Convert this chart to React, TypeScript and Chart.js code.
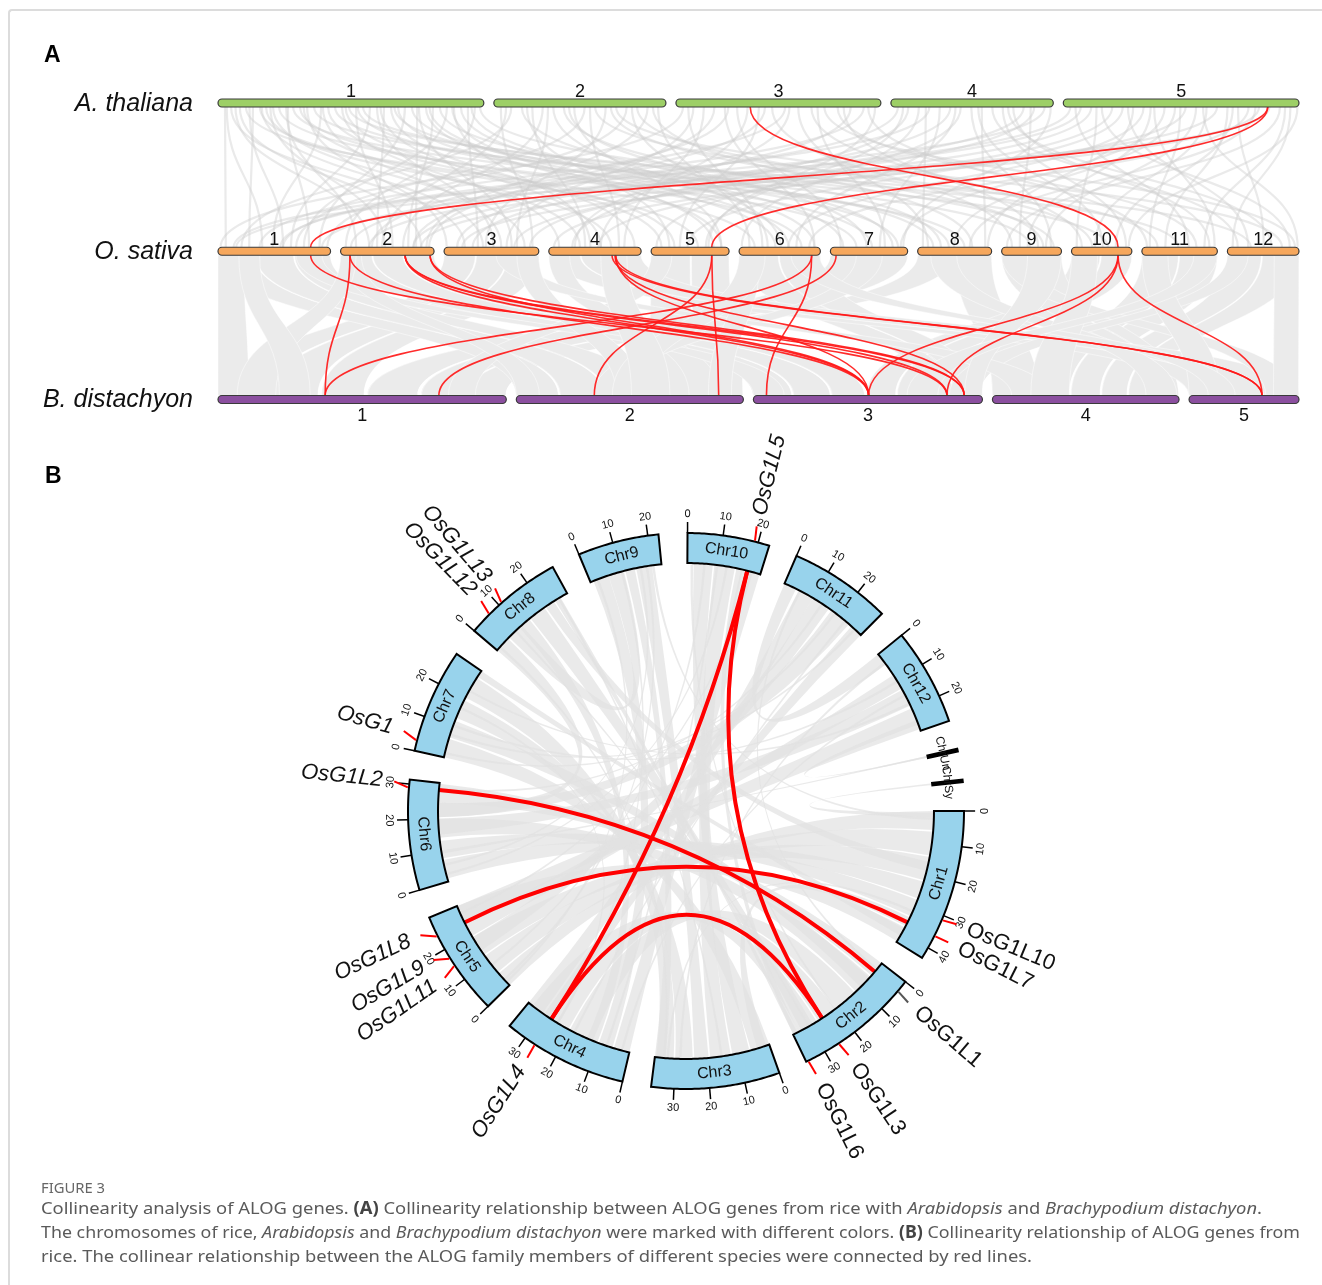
import React, { useEffect, useLayoutEffect, useRef } from "react";
import { Chart, registerables } from "chart.js";
Chart.register(...registerables);

// ================= Panel A data =================
const speciesNames = ["A. thaliana", "O. sativa", "B. distachyon"];
const atChrLabels = ["1", "2", "3", "4", "5"];
const atChrLen = [30.43, 19.7, 23.46, 18.59, 26.98];
const osChrLabels = ["1", "2", "3", "4", "5", "6", "7", "8", "9", "10", "11", "12"];
const osChrLen = [43.27, 35.94, 36.41, 35.5, 29.96, 31.25, 29.7, 28.44, 23.01, 23.21, 29.02, 27.53];
const bdChrLabels = ["1", "2", "3", "4", "5"];
const bdChrLen = [75.07, 59.13, 59.64, 48.59, 28.63];

// red links A. thaliana -> O. sativa : [atChr, atPos(Mb), osChr, osPos(Mb)]
const atOsRedLinks = [
  [3, 8.5, 10, 17.9],
  [5, 23.4, 1, 35.6],
  [5, 23.4, 5, 23.3],
];

// red links O. sativa -> B. distachyon : [osChr, osPos, bdChr, bdPos]
const osBdRedLinks = [
  [1, 35.6, 3, 50.4],
  [2, 3.6, 1, 27.9],
  [2, 3.6, 3, 30.0],
  [2, 24.8, 3, 30.0],
  [2, 24.8, 3, 50.4],
  [2, 24.8, 3, 54.9],
  [2, 34.4, 3, 30.0],
  [2, 34.4, 3, 54.9],
  [4, 25.7, 3, 30.0],
  [4, 25.4, 3, 54.9],
  [4, 25.7, 5, 19.0],
  [4, 24.3, 5, 19.0],
  [5, 23.3, 2, 20.3],
  [5, 23.3, 2, 52.7],
  [6, 27.9, 1, 27.9],
  [6, 27.9, 3, 3.4],
  [7, 2.2, 1, 57.5],
  [10, 17.9, 3, 30.0],
  [10, 17.9, 3, 50.4],
  [10, 17.9, 5, 19.0],
];

// grey collinear pairs A. thaliana -> O. sativa : [atChr, atPos, osChr, osPos]
const atOsGrayLinks = [
  [1, 0.8, 1, 3], [1, 1.5, 3, 8], [1, 2.5, 2, 31], [1, 3.2, 6, 6], [1, 4.0, 1, 12], [1, 4.8, 5, 18],
  [1, 5.5, 4, 24], [1, 6.3, 3, 31], [1, 7.0, 7, 10], [1, 7.8, 2, 6], [1, 8.6, 8, 18], [1, 9.4, 6, 24],
  [1, 10.2, 3, 1], [1, 11.0, 10, 14], [1, 11.8, 1, 21], [1, 12.6, 5, 4], [1, 13.4, 9, 11], [1, 14.2, 4, 4],
  [1, 15.0, 12, 9], [1, 15.8, 2, 20], [1, 16.6, 11, 14], [1, 17.4, 1, 28], [1, 18.2, 3, 19], [1, 19.0, 2, 14],
  [1, 19.8, 4, 33], [1, 20.6, 6, 14], [1, 21.4, 1, 39], [1, 22.2, 7, 26], [1, 23.0, 3, 26], [1, 23.8, 5, 27],
  [1, 24.6, 2, 26], [1, 25.4, 8, 6], [1, 26.2, 1, 33], [1, 27.0, 4, 16], [1, 27.8, 6, 29], [1, 28.6, 3, 13],
  [1, 29.4, 2, 2], [1, 30.0, 9, 20], [1, 1.0, 1, 17], [1, 2.0, 2, 11], [1, 3.6, 1, 25], [1, 5.0, 3, 15],
  [1, 6.0, 2, 17], [1, 8.0, 1, 35], [1, 9.8, 4, 12], [1, 12.0, 3, 22], [1, 14.6, 5, 9], [1, 16.0, 7, 16],
  [1, 18.6, 4, 20], [1, 20.2, 8, 12], [1, 22.8, 2, 29], [1, 24.2, 6, 19], [1, 26.8, 5, 24], [1, 29.0, 7, 5],
  [2, 0.8, 3, 34], [2, 2.0, 1, 9], [2, 3.2, 7, 24], [2, 4.4, 4, 14], [2, 5.6, 2, 24], [2, 6.8, 6, 16],
  [2, 8.0, 8, 9], [2, 9.2, 5, 27], [2, 10.4, 1, 30], [2, 11.6, 11, 6], [2, 12.8, 3, 16], [2, 14.0, 12, 21],
  [2, 15.2, 1, 42], [2, 16.4, 10, 8], [2, 17.6, 2, 33], [2, 18.8, 6, 4], [2, 1.4, 2, 16], [2, 3.8, 5, 7],
  [2, 6.2, 3, 28], [2, 8.6, 7, 14], [2, 11.0, 4, 27], [2, 13.4, 9, 16], [2, 15.8, 6, 11], [2, 18.2, 8, 21],
  [3, 0.8, 1, 1], [3, 2.0, 3, 24], [3, 3.2, 4, 29], [3, 4.4, 2, 34], [3, 5.6, 6, 29], [3, 7.0, 7, 4],
  [3, 9.5, 5, 11], [3, 11.0, 9, 4], [3, 12.5, 1, 16], [3, 14.0, 8, 4], [3, 15.5, 10, 4], [3, 17.0, 12, 26],
  [3, 18.5, 11, 21], [3, 20.0, 3, 5], [3, 21.5, 1, 25], [3, 22.8, 5, 22], [3, 6.0, 2, 12], [3, 13.0, 4, 10],
  [3, 1.4, 6, 9], [3, 8.2, 4, 20], [3, 10.2, 2, 28], [3, 16.2, 7, 21], [3, 19.2, 9, 14], [3, 22.0, 11, 2],
  [4, 0.8, 2, 4], [4, 2.0, 4, 9], [4, 3.2, 6, 1], [4, 4.4, 1, 24], [4, 5.6, 7, 19], [4, 6.8, 3, 11],
  [4, 8.0, 5, 2], [4, 9.2, 9, 19], [4, 10.4, 8, 26], [4, 11.6, 12, 4], [4, 12.8, 10, 21], [4, 14.0, 11, 26],
  [4, 15.2, 2, 28], [4, 16.4, 3, 33], [4, 17.6, 1, 6], [4, 18.3, 7, 28], [4, 1.4, 5, 21], [4, 4.0, 8, 2],
  [4, 7.4, 6, 22], [4, 10.0, 10, 12], [4, 13.4, 12, 17], [4, 16.0, 9, 7],
  [5, 0.8, 1, 40], [5, 2.0, 2, 11], [5, 3.2, 3, 27], [5, 4.4, 12, 24], [5, 5.6, 4, 19], [5, 6.8, 5, 14],
  [5, 8.0, 8, 27], [5, 9.2, 6, 19], [5, 10.4, 11, 28], [5, 11.6, 7, 27], [5, 12.8, 8, 14], [5, 14.0, 4, 2],
  [5, 15.2, 9, 17], [5, 16.4, 10, 9], [5, 17.6, 2, 31], [5, 18.8, 11, 9], [5, 20.0, 12, 14], [5, 21.2, 6, 27],
  [5, 22.4, 3, 7], [5, 23.6, 1, 7], [5, 24.8, 9, 2], [5, 26.0, 12, 2], [5, 26.8, 10, 22], [5, 1.4, 11, 18],
  [5, 3.8, 10, 2], [5, 7.4, 12, 8], [5, 10.0, 9, 10], [5, 13.4, 11, 3], [5, 16.0, 12, 27], [5, 19.4, 10, 17],
  [5, 22.0, 8, 20], [5, 25.4, 11, 24],
];

// grey syntenic blocks O. sativa -> B. distachyon : [osChr, osStart, osEnd, bdChr, bdStart, bdEnd]
const osBdGrayBlocks = [
  [3, 0, 12, 1, 2, 13], [3, 12.5, 24, 1, 14, 26], [3, 24.5, 36.4, 1, 27, 38],
  [7, 0, 14, 1, 39, 52], [7, 14.5, 29.7, 1, 53, 64], [8, 0, 14, 1, 64.5, 75],
  [8, 14.5, 28.4, 4, 0, 12],
  [1, 0, 14, 2, 0, 11], [1, 14.5, 29, 2, 11.5, 23], [1, 29.5, 43.2, 2, 23.5, 34],
  [5, 0, 15, 2, 34.5, 46], [5, 15.5, 29.9, 2, 46.5, 59],
  [2, 0, 12, 3, 0, 10], [2, 12.5, 24, 3, 10.5, 20], [2, 24.5, 35.9, 3, 20.5, 29],
  [10, 0, 11, 3, 29.5, 37], [10, 11.5, 23.2, 3, 37.5, 45],
  [6, 0, 15, 3, 45.5, 52], [6, 15.5, 31.2, 3, 52.5, 59.6],
  [11, 0, 14, 4, 12.5, 20], [11, 14.5, 29, 4, 20.5, 28],
  [12, 0, 13, 4, 28.5, 35], [12, 13.5, 27.5, 4, 35.5, 41],
  [9, 0, 11, 4, 41.5, 45], [9, 11.5, 23, 4, 45.5, 48.5],
  [4, 0, 12, 5, 0, 10], [4, 12.5, 24, 5, 10.5, 19], [4, 24.5, 35.5, 5, 19.5, 28.6],
  [5, 0, 8, 1, 60, 67], [9, 0, 10, 5, 20, 28], [12, 0, 8, 3, 51, 59], [8, 5, 15, 4, 40, 48],
  [4, 0, 8, 2, 45, 53], [1, 30, 40, 3, 0, 8], [7, 10, 20, 2, 20, 28], [11, 0, 10, 5, 0, 8],
  [3, 20, 30, 4, 5, 15], [10, 0, 10, 4, 10, 20], [6, 20, 31, 5, 5, 12], [9, 10, 23, 3, 55, 59.6],
  [2, 0, 8, 2, 0, 6], [12, 18, 27.5, 5, 22, 28.6], [11, 20, 29, 3, 40, 48], [6, 0, 8, 2, 50, 56],
  [1, 0, 10, 1, 0, 8], [3, 28, 36.4, 2, 26, 33], [2, 0, 6, 1, 5, 15], [6, 0, 10, 2, 25, 33],
  [4, 20, 30, 2, 30, 40], [1, 8, 16, 1, 16, 24],
];

// ================= Panel B data =================
const circChrNames = ["Chr1", "Chr2", "Chr3", "Chr4", "Chr5", "Chr6", "Chr7", "Chr8", "Chr9", "Chr10", "Chr11", "Chr12", "ChrUn", "ChrSy"];
const circChrLen = [43.27, 35.94, 36.41, 35.5, 29.96, 31.25, 29.7, 28.44, 23.01, 23.21, 29.02, 27.53, 0.63, 0.59];
const circTickStep = 10;

const geneNames = ["OsG1", "OsG1L1", "OsG1L2", "OsG1L3", "OsG1L4", "OsG1L5", "OsG1L6", "OsG1L7", "OsG1L8", "OsG1L9", "OsG1L10", "OsG1L11", "OsG1L12", "OsG1L13"];
const geneChr = ["Chr7", "Chr2", "Chr6", "Chr2", "Chr4", "Chr10", "Chr2", "Chr1", "Chr5", "Chr5", "Chr1", "Chr5", "Chr8", "Chr8"];
const genePos = [3.0, 3.4, 29.0, 25.5, 26.7, 19.0, 35.3, 36.2, 24.3, 17.2, 31.3, 14.7, 6.3, 11.0];
const geneLabelPos = [4.5, 3.9, 30.3, 25.0, 26.5, 18.5, 35.0, 36.1, 26.5, 19.1, 30.8, 13.5, 7.2, 12.2];

const circLinkFrom = ["OsG1L5", "OsG1L5", "OsG1L4", "OsG1L2", "OsG1L8"];
const circLinkTo = ["OsG1L4", "OsG1L3", "OsG1L3", "OsG1L1", "OsG1L7"];

// grey segmental duplications: [chrA, startA, endA, chrB, startB, endB] (chr index 1..14)
const circGrayLinks = [
  [1, 0, 6, 5, 0, 5], [1, 6.5, 14, 5, 5.5, 12], [1, 14.5, 22, 5, 12.5, 19], [1, 22.5, 28, 6, 1, 7],
  [1, 28.5, 34, 6, 7.5, 13], [1, 38, 43, 5, 25, 29.9], [1, 34.5, 37.5, 3, 1, 4],
  [2, 0, 5, 6, 25, 31], [2, 5.5, 12, 6, 14, 20], [2, 12.5, 20, 4, 12, 20], [2, 20.5, 27, 4, 20.5, 27],
  [2, 27.5, 34, 4, 27.5, 34], [2, 34.5, 35.9, 8, 24, 26],
  [3, 0, 6, 7, 0, 6], [3, 6.5, 12, 10, 2, 8], [3, 12.5, 19, 10, 8.5, 15], [3, 19.5, 24, 9, 15, 20],
  [3, 24.5, 30, 7, 13, 19], [3, 30.5, 36, 7, 20, 27],
  [4, 0, 5, 10, 17, 23], [4, 5.5, 10, 9, 1, 6], [4, 10.5, 14, 8, 10, 14], [4, 30, 35.5, 11, 5, 10],
  [5, 19.5, 24, 12, 8, 13], [6, 15, 20, 12, 13.5, 19], [6, 20.5, 25, 8, 0, 5], [7, 6.5, 12, 2, 6, 10],
  [7, 27.5, 29.7, 1, 38.5, 41], [8, 5.5, 11, 9, 6, 11], [8, 14.5, 20, 2, 29, 33], [8, 20.5, 23.5, 1, 16, 19],
  [9, 11.5, 14.5, 3, 33, 36.4], [10, 15.5, 17.5, 2, 34, 35.9], [11, 0, 4, 12, 0, 4], [11, 10, 16, 5, 14, 19],
  [11, 17, 24, 6, 20.5, 25], [11, 25, 29, 4, 26, 29.5], [12, 20, 27, 5, 24, 29.9],
  [13, 0, 0.63, 12, 24, 25.5], [14, 0, 0.59, 1, 0.5, 2], [13, 0, 0.63, 6, 9, 10],
  [7, 16, 16.8, 4, 24, 24.8], [9, 2, 2.8, 5, 1, 1.8], [10, 9, 9.8, 4, 7, 7.8], [8, 25, 25.8, 3, 15, 15.8],
  [12, 3, 3.8, 3, 28, 28.8], [11, 5, 5.8, 2, 2, 2.8], [6, 2, 2.8, 10, 12, 12.8], [5, 2, 2.8, 9, 18, 18.8],
  [7, 22, 22.8, 12, 18, 18.8], [9, 20, 20.8, 1, 2, 2.8], [10, 1, 1.8, 2, 20, 20.8], [4, 18, 18.8, 11, 22, 22.8],
  [8, 1, 1.8, 3, 33, 33.8], [6, 29, 29.8, 11, 13, 13.8], [12, 10, 10.8, 7, 10, 10.8], [3, 32, 32.8, 1, 32, 32.8],
  [5, 8, 8.8, 10, 5, 5.8], [4, 24, 24.8, 9, 10, 10.8], [2, 30, 30.8, 8, 8, 8.8], [7, 1, 1.8, 11, 18, 18.8],
  [9, 16, 16.8, 6, 5, 5.8], [10, 20, 20.8, 5, 27, 27.8], [11, 26, 26.8, 7, 7, 7.8], [12, 15, 15.8, 4, 2, 2.8],
];

// ================= layout / style constants =================
const FONT = "'Liberation Sans', Arial, sans-serif";
const GAP_FRAC = 0.00925;
const CIRC_GAP = 6; // degrees
const CIRC_START = 90; // degrees clockwise from 12 o'clock
const R_OUT = 1.0;
const R_IN = 0.892;

function fracOf(lens: number[], chr: number, pos: number) {
  const total = lens.reduce((a, b) => a + b, 0);
  const unit = (1 - (lens.length - 1) * GAP_FRAC) / total;
  let off = 0;
  for (let i = 0; i < chr - 1; i++) off += lens[i];
  return off * unit + (chr - 1) * GAP_FRAC + pos * unit;
}

function roundRectPath(ctx: CanvasRenderingContext2D, x: number, y: number, w: number, h: number, r: number) {
  ctx.beginPath();
  ctx.moveTo(x + r, y);
  ctx.lineTo(x + w - r, y);
  ctx.arc(x + w - r, y + r, r, -Math.PI / 2, Math.PI / 2);
  ctx.lineTo(x + r, y + h);
  ctx.arc(x + r, y + r, r, Math.PI / 2, (3 * Math.PI) / 2);
  ctx.closePath();
}

const panelAPlugin = {
  id: "panelA",
  afterDraw(chart: any) {
    const ctx: CanvasRenderingContext2D = chart.ctx;
    const xs = chart.scales.x;
    const ys = chart.scales.y;
    const lensByRow = [atChrLen, osChrLen, bdChrLen];
    const labelsByRow = [atChrLabels, osChrLabels, bdChrLabels];
    const X = (row: number, chr: number, pos: number) => xs.getPixelForValue(fracOf(lensByRow[row], chr, pos));
    const Y = (row: number) => ys.getPixelForValue(row);
    const HB = 4;
    ctx.save();

    // grey At-Os links
    ctx.lineWidth = 2.2;
    ctx.strokeStyle = "rgba(205,205,205,0.42)";
    for (const [ac, ap, oc, op] of atOsGrayLinks) {
      const x1 = X(0, ac, ap), y1 = Y(0) + HB, x2 = X(1, oc, op), y2 = Y(1) - HB;
      const ym = (y1 + y2) / 2;
      ctx.beginPath();
      ctx.moveTo(x1, y1);
      ctx.bezierCurveTo(x1, ym, x2, ym, x2, y2);
      ctx.stroke();
    }

    // grey Os-Bd syntenic ribbons
    ctx.fillStyle = "#ebebeb";
    ctx.strokeStyle = "rgba(255,255,255,0.8)";
    ctx.lineWidth = 0.6;
    for (const [oc, o1, o2, bc, b1, b2] of osBdGrayBlocks) {
      const y1 = Y(1) + HB, y2 = Y(2) - HB, ym = (y1 + y2) / 2;
      const xa1 = X(1, oc, o1), xa2 = X(1, oc, o2), xb1 = X(2, bc, b1), xb2 = X(2, bc, b2);
      ctx.beginPath();
      ctx.moveTo(xa1, y1);
      ctx.lineTo(xa2, y1);
      ctx.bezierCurveTo(xa2, ym, xb2, ym, xb2, y2);
      ctx.lineTo(xb1, y2);
      ctx.bezierCurveTo(xb1, ym, xa1, ym, xa1, y1);
      ctx.closePath();
      ctx.fill();
      ctx.stroke();
    }

    // red links
    ctx.lineWidth = 1.6;
    ctx.strokeStyle = "rgba(255,25,25,0.92)";
    const redCurve = (r1: number, c1: number, p1: number, r2: number, c2: number, p2: number) => {
      const x1 = X(r1, c1, p1), y1 = Y(r1) + HB, x2 = X(r2, c2, p2), y2 = Y(r2) - HB;
      const ym = (y1 + y2) / 2;
      ctx.beginPath();
      ctx.moveTo(x1, y1);
      ctx.bezierCurveTo(x1, ym, x2, ym, x2, y2);
      ctx.stroke();
    };
    for (const [ac, ap, oc, op] of atOsRedLinks) redCurve(0, ac, ap, 1, oc, op);
    for (const [oc, op, bc, bp] of osBdRedLinks) redCurve(1, oc, op, 2, bc, bp);

    // chromosome bars
    const colors = ["#9dcf66", "#f6a75c", "#8b4f9f"];
    for (let row = 0; row < 3; row++) {
      const lens = lensByRow[row];
      for (let c = 1; c <= lens.length; c++) {
        const x1 = X(row, c, 0), x2 = X(row, c, lens[c - 1]);
        roundRectPath(ctx, x1, Y(row) - HB, x2 - x1, HB * 2, HB);
        ctx.fillStyle = colors[row];
        ctx.fill();
        ctx.lineWidth = 1.2;
        ctx.strokeStyle = "#3a3a3a";
        ctx.stroke();
        ctx.fillStyle = "#111";
        ctx.font = `18px ${FONT}`;
        ctx.textAlign = "center";
        const xm = (x1 + x2) / 2;
        if (row < 2) {
          ctx.textBaseline = "alphabetic";
          ctx.fillText(labelsByRow[row][c - 1], xm, Y(row) - 6);
        } else {
          ctx.textBaseline = "top";
          ctx.fillText(labelsByRow[row][c - 1], xm, Y(row) + 8);
        }
      }
      ctx.font = `italic 25px ${FONT}`;
      ctx.textAlign = "right";
      ctx.textBaseline = "middle";
      ctx.fillStyle = "#111";
      ctx.fillText(speciesNames[row], xs.left - 25, Y(row) + 1);
    }
    ctx.font = `bold 23px ${FONT}`;
    ctx.textAlign = "left";
    ctx.textBaseline = "alphabetic";
    ctx.fillStyle = "#000";
    ctx.fillText("A", 44, 62);
    ctx.restore();
  },
};

const panelBPlugin = {
  id: "panelB",
  afterDraw(chart: any) {
    const ctx: CanvasRenderingContext2D = chart.ctx;
    const xs = chart.scales.x;
    const ys = chart.scales.y;
    const deg = Math.PI / 180;
    const total = circChrLen.reduce((a, b) => a + b, 0);
    const s = (360 - circChrLen.length * CIRC_GAP) / total;
    const starts: number[] = [];
    let a = CIRC_START;
    for (const len of circChrLen) {
      starts.push(a);
      a += len * s + CIRC_GAP;
    }
    const ang = (ci: number, pos: number) => starts[ci] + pos * s;
    const P = (theta: number, r: number): [number, number] => [
      xs.getPixelForValue(r * Math.sin(theta * deg)),
      ys.getPixelForValue(r * Math.cos(theta * deg)),
    ];
    const C = P(0, 0);
    const norm = (t: number) => ((t % 360) + 360) % 360;
    const arcTo = (t1: number, t2: number, r: number, first: boolean) => {
      const n = Math.max(2, Math.ceil(Math.abs(t2 - t1) / 0.5));
      for (let i = 0; i <= n; i++) {
        const [x, y] = P(t1 + ((t2 - t1) * i) / n, r);
        if (i === 0 && first) ctx.moveTo(x, y);
        else ctx.lineTo(x, y);
      }
    };
    const tangentText = (text: string, theta: number, r: number) => {
      const [x, y] = P(theta, r);
      const t = norm(theta);
      ctx.save();
      ctx.translate(x, y);
      ctx.rotate((t > 90 && t < 270 ? t - 180 : t) * deg);
      ctx.textAlign = "center";
      ctx.textBaseline = "middle";
      ctx.fillText(text, 0, 0);
      ctx.restore();
    };
    const radialText = (text: string, theta: number, r: number) => {
      const [x, y] = P(theta, r);
      const t = norm(theta);
      ctx.save();
      ctx.translate(x, y);
      if (t < 180) {
        ctx.rotate((t - 90) * deg);
        ctx.textAlign = "left";
      } else {
        ctx.rotate((t - 270) * deg);
        ctx.textAlign = "right";
      }
      ctx.textBaseline = "middle";
      ctx.fillText(text, 0, 0);
      ctx.restore();
    };
    const chrIdx = (name: string) => circChrNames.indexOf(name);
    const geneAngle = (g: string) => {
      const i = geneNames.indexOf(g);
      return ang(chrIdx(geneChr[i]), genePos[i]);
    };

    ctx.save();
    // grey links
    ctx.fillStyle = "rgba(226,226,226,0.72)";
    for (const [ca, a1, a2, cb, b1, b2] of circGrayLinks) {
      const tA1 = ang(ca - 1, a1), tA2 = ang(ca - 1, a2), tB1 = ang(cb - 1, b1), tB2 = ang(cb - 1, b2);
      ctx.beginPath();
      arcTo(tA1, tA2, R_IN, true);
      const [xb1, yb1] = P(tB1, R_IN);
      ctx.quadraticCurveTo(C[0], C[1], xb1, yb1);
      arcTo(tB1, tB2, R_IN, false);
      const [xa1, ya1] = P(tA1, R_IN);
      ctx.quadraticCurveTo(C[0], C[1], xa1, ya1);
      ctx.closePath();
      ctx.fill();
    }

    // red links
    ctx.strokeStyle = "#ff0000";
    ctx.lineWidth = 4;
    ctx.lineCap = "round";
    for (let i = 0; i < circLinkFrom.length; i++) {
      const [x1, y1] = P(geneAngle(circLinkFrom[i]), R_IN);
      const [x2, y2] = P(geneAngle(circLinkTo[i]), R_IN);
      ctx.beginPath();
      ctx.moveTo(x1, y1);
      ctx.quadraticCurveTo(C[0], C[1], x2, y2);
      ctx.stroke();
    }
    ctx.lineCap = "butt";

    // ideograms
    for (let ci = 0; ci < circChrNames.length; ci++) {
      const t1 = starts[ci], t2 = ang(ci, circChrLen[ci]);
      ctx.beginPath();
      arcTo(t1, t2, R_OUT, true);
      arcTo(t2, t1, R_IN, false);
      ctx.closePath();
      ctx.fillStyle = "#98d3ec";
      ctx.fill();
      ctx.lineWidth = circChrLen[ci] < 2 ? 2.6 : 2;
      ctx.strokeStyle = "#000";
      ctx.stroke();
      const tm = (t1 + t2) / 2;
      ctx.fillStyle = "#111";
      if (circChrLen[ci] < 2) {
        ctx.font = `12px ${FONT}`;
        tangentText(circChrNames[ci], tm, (R_IN + R_OUT) / 2);
      } else {
        ctx.font = `16px ${FONT}`;
        tangentText(circChrNames[ci], tm, (R_IN + R_OUT) / 2);
        ctx.font = `11px ${FONT}`;
        for (let v = 0; v <= circChrLen[ci]; v += circTickStep) {
          const t = ang(ci, v);
          const [x1, y1] = P(t, R_OUT);
          const [x2, y2] = P(t, R_OUT + 0.04);
          ctx.beginPath();
          ctx.moveTo(x1, y1);
          ctx.lineTo(x2, y2);
          ctx.lineWidth = 1.5;
          ctx.strokeStyle = "#000";
          ctx.stroke();
          tangentText(String(v), t, R_OUT + 0.068);
        }
      }
    }

    // gene markers and labels
    for (let i = 0; i < geneNames.length; i++) {
      const ci = chrIdx(geneChr[i]);
      const tg = ang(ci, genePos[i]);
      const tl = ang(ci, geneLabelPos[i]);
      const p0 = P(tg, R_OUT + 0.004), p1 = P(tl, R_OUT + 0.055);
      ctx.beginPath();
      ctx.moveTo(p0[0], p0[1]);
      ctx.lineTo(p1[0], p1[1]);
      ctx.lineWidth = 2;
      ctx.strokeStyle = geneNames[i] === "OsG1L1" ? "#555" : "#ff0000";
      ctx.stroke();
      const t = norm(tl);
      const italic = t > 180 || t < 45;
      ctx.font = `${italic ? "italic " : ""}22px ${FONT}`;
      ctx.fillStyle = "#111";
      radialText(geneNames[i], tl, R_OUT + 0.097);
    }

    ctx.font = `bold 23px ${FONT}`;
    ctx.textAlign = "left";
    ctx.textBaseline = "alphabetic";
    ctx.fillStyle = "#000";
    ctx.fillText("B", 45, 53);
    ctx.restore();
  },
};

function FitLine(props: { width: number; top: number; style?: any; children: any }) {
  const ref = useRef<HTMLDivElement>(null);
  useLayoutEffect(() => {
    const el = ref.current;
    if (!el) return;
    el.style.transform = "none";
    const w = el.getBoundingClientRect().width;
    if (w > 0) el.style.transform = `scaleX(${props.width / w})`;
  }, [props.width]);
  return (
    <div
      ref={ref}
      style={{
        position: "absolute",
        left: 41,
        top: props.top,
        whiteSpace: "nowrap",
        transformOrigin: "0 0",
        display: "inline-block",
        ...props.style,
      }}
    >
      {props.children}
    </div>
  );
}

export default function App() {
  const aRef = useRef<HTMLCanvasElement>(null);
  const bRef = useRef<HTMLCanvasElement>(null);

  useEffect(() => {
    const common = {
      responsive: false,
      animation: false as const,
      events: [] as any[],
      plugins: { legend: { display: false }, tooltip: { enabled: false }, title: { display: false } },
    };
    const ca = new Chart(aRef.current as HTMLCanvasElement, {
      type: "scatter",
      data: { datasets: [{ data: [] }] },
      options: {
        ...common,
        layout: { padding: { left: 218, right: 23, top: 103, bottom: 40.5 } },
        scales: {
          x: { type: "linear", min: 0, max: 1, display: false },
          y: { type: "linear", min: 0, max: 2, reverse: true, display: false },
        },
      } as any,
      plugins: [panelAPlugin],
    });
    const cb = new Chart(bRef.current as HTMLCanvasElement, {
      type: "scatter",
      data: { datasets: [{ data: [] }] },
      options: {
        ...common,
        layout: { padding: { left: 324.6, right: 274.6, top: 19.6, bottom: 17.6 } },
        scales: {
          x: { type: "linear", min: -1.3, max: 1.3, display: false },
          y: { type: "linear", min: -1.3, max: 1.3, display: false },
        },
      } as any,
      plugins: [panelBPlugin],
    });
    return () => {
      ca.destroy();
      cb.destroy();
    };
  }, []);

  const capStyle = { fontFamily: "'Noto Sans', 'Open Sans', sans-serif", fontSize: 17, color: "#5a5a5a", lineHeight: "24px" };
  return (
    <div style={{ position: "absolute", left: 0, top: 0, width: 1322, height: 1285, background: "#fff", overflow: "hidden" }}>
      <div
        style={{
          position: "absolute",
          left: 8,
          top: 9,
          width: 1330,
          height: 1300,
          borderTop: "2px solid #dcdcdc",
          borderLeft: "2px solid #dcdcdc",
          borderTopLeftRadius: 4,
        }}
      />
      <canvas ref={aRef} width={1322} height={440} style={{ position: "absolute", left: 0, top: 0, width: 1322, height: 440 }} />
      <canvas ref={bRef} width={1322} height={760} style={{ position: "absolute", left: 0, top: 430, width: 1322, height: 760 }} />
      <FitLine width={64} top={1180} style={{ ...capStyle, fontSize: 14, lineHeight: "16px", color: "#666" }}>
        FIGURE 3
      </FitLine>
      <FitLine width={1221} top={1196} style={capStyle}>
        Collinearity analysis of ALOG genes. <b style={{ color: "#444" }}>(A)</b> Collinearity relationship between ALOG genes from rice with{" "}
        <i>Arabidopsis</i> and <i>Brachypodium distachyon</i>.
      </FitLine>
      <FitLine width={1259} top={1220} style={capStyle}>
        The chromosomes of rice, <i>Arabidopsis</i> and <i>Brachypodium distachyon</i> were marked with different colors.{" "}
        <b style={{ color: "#444" }}>(B)</b> Collinearity relationship of ALOG genes from
      </FitLine>
      <FitLine width={991} top={1244} style={capStyle}>
        rice. The collinear relationship between the ALOG family members of different species were connected by red lines.
      </FitLine>
    </div>
  );
}
